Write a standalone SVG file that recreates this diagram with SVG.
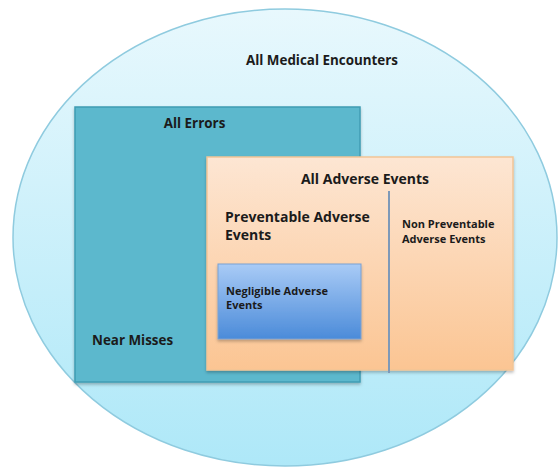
<svg xmlns="http://www.w3.org/2000/svg" width="559" height="468" viewBox="0 0 559 468">
  <defs>
    <linearGradient id="gEncounters" x1="0" y1="0" x2="0" y2="1">
      <stop offset="0" stop-color="#e8f8fd"/>
      <stop offset="1" stop-color="#aee8f8"/>
    </linearGradient>
    <linearGradient id="gAdverse" x1="0" y1="0" x2="0" y2="1">
      <stop offset="0" stop-color="#fde6d3"/>
      <stop offset="1" stop-color="#fbc593"/>
    </linearGradient>
    <linearGradient id="gNegligible" x1="0" y1="0" x2="0" y2="1">
      <stop offset="0" stop-color="#a9cbf6"/>
      <stop offset="1" stop-color="#4b8bd9"/>
    </linearGradient>
    <filter id="shadow" x="-10%" y="-10%" width="120%" height="130%">
      <feDropShadow dx="0" dy="2" stdDeviation="1.5" flood-color="#000" flood-opacity="0.25"/>
    </filter>
  </defs>
  <style>
    text { font-family: "Open Sans", Lato, "Liberation Sans", sans-serif; font-weight: 700; fill: #1b1b1b; }
    .big { font-size: 14px; }
    .mid { font-size: 13.4px; }
    .small { font-size: 11px; }
  </style>

  <rect width="559" height="468" fill="#ffffff"/>

  <g id="all-medical-encounters">
    <ellipse cx="285" cy="237.5" rx="272" ry="228.5" fill="url(#gEncounters)" stroke="#8fcbdf" stroke-width="1.5"/>
    <text class="mid" x="322" y="65" text-anchor="middle">All Medical Encounters</text>
  </g>

  <g id="all-errors">
    <rect x="75" y="107" width="285" height="275" fill="#5bb8cd" stroke="#3f9cb3" stroke-width="1.5" filter="url(#shadow)"/>
    <text class="mid" x="194.5" y="128" text-anchor="middle">All Errors</text>
    <text class="mid" x="92" y="345">Near Misses</text>
  </g>

  <g id="all-adverse-events">
    <rect x="207" y="157" width="306" height="213" fill="url(#gAdverse)" stroke="#f2c596" stroke-width="1.5" filter="url(#shadow)"/>
    <text class="big" x="365" y="184" text-anchor="middle">All Adverse Events</text>
  </g>

  <g id="preventable-adverse-events">
    <text class="big" x="225" y="222">Preventable Adverse</text>
    <text class="big" x="225" y="240">Events</text>
  </g>

  <g id="non-preventable-adverse-events">
    <text class="small" x="402" y="228">Non Preventable</text>
    <text class="small" x="402" y="243">Adverse Events</text>
  </g>

  <g id="negligible-adverse-events">
    <rect x="218" y="264" width="143" height="75" fill="url(#gNegligible)" stroke="#7aa1d2" stroke-width="1" filter="url(#shadow)"/>
    <text class="small" x="226" y="295">Negligible Adverse</text>
    <text class="small" x="226" y="309">Events</text>
  </g>

  <g id="connectors">
    <line x1="389" y1="191" x2="389" y2="373" stroke="#7e99b8" stroke-width="2"/>
  </g>
</svg>
